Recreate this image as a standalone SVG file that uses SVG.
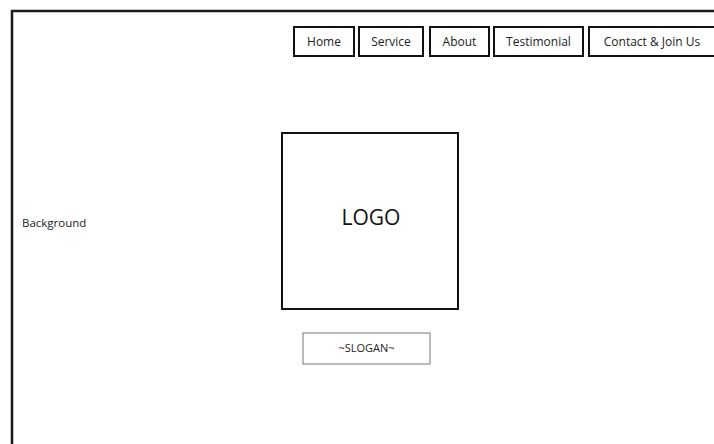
<svg xmlns="http://www.w3.org/2000/svg" width="714" height="444" viewBox="0 0 714 444">
<style>
.frame{fill:none;stroke:#1a1a1a;stroke-width:2.5}
.nav{fill:#fff;stroke:#111;stroke-width:2}
.logo{fill:#fff;stroke:#111;stroke-width:2}
.slogan{fill:#fff;stroke:#777;stroke-width:1}
text{font-family:"Open Sans","Noto Sans","Liberation Sans",sans-serif;fill:#222}
.t{font-size:12px;text-anchor:middle}
</style>
<rect width="714" height="444" fill="#fff"/>
<g id="frame"><rect class="frame" x="12" y="11" width="720" height="450"/></g>
<g id="nav-home"><rect class="nav" x="294" y="27" width="60" height="29"/><text class="t" x="324" y="46">Home</text></g>
<g id="nav-service"><rect class="nav" x="359" y="27" width="64" height="29"/><text class="t" x="391" y="46">Service</text></g>
<g id="nav-about"><rect class="nav" x="430" y="27" width="59" height="29"/><text class="t" x="459.5" y="46">About</text></g>
<g id="nav-testimonial"><rect class="nav" x="494" y="27" width="89" height="29"/><text class="t" x="538.5" y="46">Testimonial</text></g>
<g id="nav-contact"><rect class="nav" x="589" y="27" width="140" height="29"/><text class="t" x="652" y="46">Contact &amp; Join Us</text></g>
<g id="background"><text x="22" y="227" style="font-size:11.5px">Background</text></g>
<g id="logo"><rect class="logo" x="282" y="133" width="176" height="176"/><text x="371" y="225" style="font-size:21px;text-anchor:middle;fill:#111">LOGO</text></g>
<g id="slogan"><rect class="slogan" x="303" y="333" width="127" height="31"/><text class="t" x="366.5" y="352" style="font-size:11px">~SLOGAN~</text></g>
<g id="connectors"></g>
</svg>
